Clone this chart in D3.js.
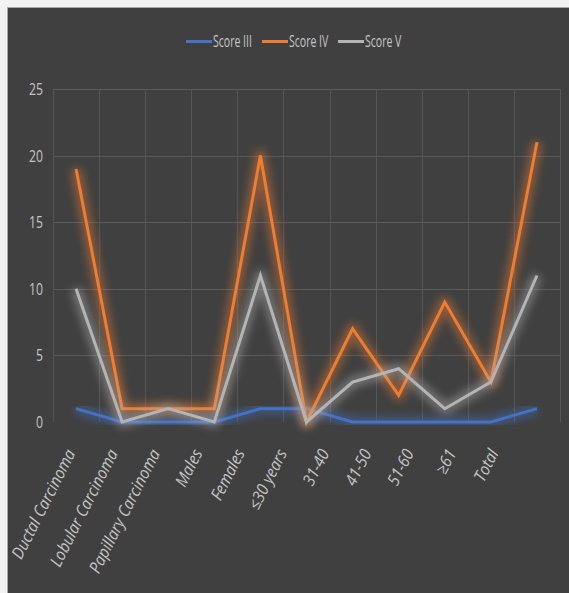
<!DOCTYPE html>
<html>
<head>
<meta charset="utf-8">
<script src="https://cdnjs.cloudflare.com/ajax/libs/d3/7.8.5/d3.min.js"></script>
<style>
  html, body { margin: 0; padding: 0; background: #f2f2f2; }
  #chart { width: 569px; height: 593px; }
  text { font-family: "Open Sans", "Liberation Sans", sans-serif; fill: #c4c4c4; }
</style>
</head>
<body>
<div id="chart"></div>
<script>
  // categories and series values
  var categories = ["Ductal Carcinoma", "Lobular Carcinoma", "Papillary Carcinoma", "Males", "Females",
                    "\u226430 years", "31-40", "41-50", "51-60", "\u226561", "Total"];
  var scoreIII = [1, 0, 0, 0, 1, 1, 0, 0, 0, 0, 1];
  var scoreIV  = [19, 1, 1, 1, 20, 0, 7, 2, 9, 3, 21];
  var scoreV   = [10, 0, 1, 0, 11, 0, 3, 4, 1, 3, 11];
  var seriesNames = ["Score III", "Score IV", "Score V"];
  var yTicks = [0, 5, 10, 15, 20, 25];

  var series = [
    { name: seriesNames[0], values: scoreIII, color: "#4472c4" },
    { name: seriesNames[1], values: scoreIV,  color: "#ed7d31" },
    { name: seriesNames[2], values: scoreV,   color: "#b4b4b4" }
  ];

  var W = 569, H = 593;
  var svg = d3.select("#chart").append("svg")
      .attr("width", W).attr("height", H);

  // dark panel with a thin light frame on the top and left
  svg.append("rect").attr("x", 8).attr("y", 8).attr("width", W - 8).attr("height", H - 8)
     .attr("fill", "#404040");
  svg.append("line").attr("x1", 8).attr("x2", W).attr("y1", 7.5).attr("y2", 7.5)
     .attr("stroke", "#a8a8a8").attr("stroke-width", 1);
  svg.append("line").attr("x1", 7.5).attr("x2", 7.5).attr("y1", 7).attr("y2", H)
     .attr("stroke", "#a8a8a8").attr("stroke-width", 1);

  var defs = svg.append("defs");
  var f = defs.append("filter").attr("id", "glow")
      .attr("x", "-20%").attr("y", "-20%").attr("width", "140%").attr("height", "140%");
  f.append("feGaussianBlur").attr("stdDeviation", 4);

  var plotLeft = 53, plotRight = 560, plotTop = 89, plotBottom = 422;

  var x = d3.scaleBand().domain(categories).range([plotLeft, plotRight]);
  var y = d3.scaleLinear().domain([0, 25]).range([plotBottom, plotTop]);
  // the category labels sit a little tighter than the plot bands in the picture
  var labelX = d3.scalePoint().domain(categories).range([72, 495]);

  // gridlines
  var grid = svg.append("g");
  grid.selectAll(".hg").data(yTicks.filter(function(d) { return d > 0; }))
    .enter().append("line")
    .attr("x1", plotLeft).attr("x2", plotRight)
    .attr("y1", function(d) { return Math.round(y(d)) + 0.5; })
    .attr("y2", function(d) { return Math.round(y(d)) + 0.5; })
    .attr("stroke", "#5a5a5a").attr("stroke-width", 1);
  var vx = categories.map(function(c) { return x(c); }).concat([plotRight]);
  grid.selectAll(".vg").data(vx)
    .enter().append("line")
    .attr("x1", function(d) { return Math.round(d) + 0.5; })
    .attr("x2", function(d) { return Math.round(d) + 0.5; })
    .attr("y1", plotTop).attr("y2", plotBottom)
    .attr("stroke", "#555555").attr("stroke-width", 1);

  // y axis labels
  svg.append("g").selectAll("text").data(yTicks).enter().append("text")
    .attr("transform", function(d) { return "translate(43," + (y(d) + 6) + ") scale(0.72,1)"; })
    .attr("text-anchor", "end")
    .attr("font-size", 17)
    .text(function(d) { return d; });

  // x axis labels
  svg.append("g").selectAll("text").data(categories).enter().append("text")
    .attr("transform", function(d) {
      return "translate(" + (labelX(d) + 4) + ",453) rotate(-63) scale(0.95,1.05)";
    })
    .attr("text-anchor", "end")
    .attr("font-size", 16)
    .attr("font-style", "italic")
    .text(function(d) { return d; });

  var line = d3.line()
    .x(function(d, i) { return x(categories[i]) + x.bandwidth() / 2; })
    .y(function(d) { return y(d); });

  var lines = svg.append("g");
  series.forEach(function(s) {
    lines.append("path")
      .attr("d", line(s.values))
      .attr("fill", "none")
      .attr("stroke", s.color)
      .attr("stroke-width", 11)
      .attr("stroke-opacity", 0.45)
      .attr("stroke-linejoin", "round")
      .attr("filter", "url(#glow)");
    lines.append("path")
      .attr("d", line(s.values))
      .attr("fill", "none")
      .attr("stroke", s.color)
      .attr("stroke-width", 3)
      .attr("stroke-linejoin", "miter");
  });

  // legend
  var legendPos = [186, 262, 338];
  var legend = svg.append("g");
  series.forEach(function(s, i) {
    var lx = legendPos[i];
    legend.append("line")
      .attr("x1", lx).attr("x2", lx + 26).attr("y1", 41.5).attr("y2", 41.5)
      .attr("stroke", s.color).attr("stroke-width", 3);
    legend.append("text")
      .attr("transform", "translate(" + (lx + 27) + ",47) scale(0.62,1)")
      .attr("font-size", 17)
      .text(s.name);
  });
</script>
</body>
</html>
